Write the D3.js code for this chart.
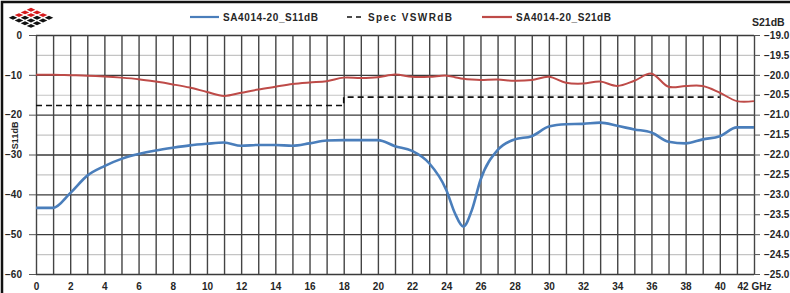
<!DOCTYPE html>
<html>
<head>
<meta charset="utf-8">
<script src="https://cdn.jsdelivr.net/npm/d3@7"></script>
<style>
  body { margin: 0; background: #fff; }
  svg { display: block; font-family: "Liberation Sans", Arial, sans-serif; }
</style>
</head>
<body>
<svg id="chart"></svg>
<script>
// S-parameter sweep, values
var freqGHz = [0, 1, 2, 3, 4, 5, 6, 7, 8, 9, 10, 11, 12, 13, 14, 15, 16, 17, 18, 19, 20,
  21, 22, 23, 24, 24.5, 25, 25.5, 26, 27, 28, 29, 30, 31, 32, 33, 34, 35, 36, 37, 38, 39, 40, 41, 42];
var s11dB = [-43.4, -43.4, -39.7, -35.3, -32.9, -31.1, -29.9, -29.0, -28.3, -27.7, -27.3, -27.0, -27.8, -27.6,
  -27.6, -27.8, -27.2, -26.5, -26.4, -26.4, -26.4, -27.9, -29.1, -32.2, -38.9, -44.7, -48.1, -43.9, -36.4,
  -28.9, -26.2, -25.4, -23.0, -22.4, -22.3, -22.0, -22.8, -23.7, -24.5, -26.8, -27.2, -26.2, -25.4, -23.2, -23.2];
var s21dB = [-20.00, -20.00, -20.01, -20.02, -20.04, -20.07, -20.11, -20.17, -20.24, -20.32, -20.43, -20.53,
  -20.45, -20.37, -20.30, -20.23, -20.19, -20.16, -20.07, -20.08, -20.06, -19.99, -20.05, -20.05, -20.02,
  -20.06, -20.10, -20.12, -20.13, -20.12, -20.15, -20.13, -20.05, -20.20, -20.22, -20.17, -20.28, -20.15,
  -19.97, -20.30, -20.28, -20.28, -20.45, -20.66, -20.66];
var specFreq = [0, 18, 18, 40];
var specVswrDB = [-17.7, -17.7, -15.6, -15.6];

var xTicks = [0, 2, 4, 6, 8, 10, 12, 14, 16, 18, 20, 22, 24, 26, 28, 30, 32, 34, 36, 38, 40, 42];
var leftTicks = [0, -10, -20, -30, -40, -50, -60];
var rightTicks = [-19.0, -19.5, -20.0, -20.5, -21.0, -21.5, -22.0, -22.5, -23.0, -23.5, -24.0, -24.5, -25.0];

var seriesNames = ["SA4014-20_S11dB", "Spec VSWRdB", "SA4014-20_S21dB"];

var width = 790, height = 293;
var margin = { top: 35, right: 36, bottom: 19, left: 36 };
var blue = "#4a7ebb", red = "#be4b48";

var svg = d3.select("#chart").attr("width", width).attr("height", height);

// frame
svg.append("rect").attr("x", 2).attr("y", 2).attr("width", width + 10).attr("height", height + 10)
  .attr("fill", "#fff").attr("stroke", "#111").attr("stroke-width", 2.5);

var x = d3.scaleLinear().domain([0, 42]).range([margin.left, width - margin.right]);
var yL = d3.scaleLinear().domain([-60, 0]).range([height - margin.bottom, margin.top]);
var yR = d3.scaleLinear().domain([-25, -19]).range(yL.range());

var plotH = yL(-60) - yL(0), plotW = x(42) - x(0);

// horizontal grid: light every 5 dB, dark every 10 dB
svg.append("g")
  .attr("transform", "translate(" + x(0) + ",0)")
  .call(d3.axisLeft(yL).tickValues(d3.range(-55, 0, 10)).tickSize(-plotW).tickFormat(""))
  .call(function(g) { g.select(".domain").remove(); })
  .selectAll("line").attr("stroke", "#c4c4c4").attr("stroke-width", 1.2);

svg.append("g")
  .attr("transform", "translate(" + x(0) + ",0)")
  .call(d3.axisLeft(yL).tickValues(d3.range(-60, 1, 10)).tickSize(-plotW).tickFormat(""))
  .call(function(g) { g.select(".domain").remove(); })
  .selectAll("line").attr("stroke", "#3a3a3a").attr("stroke-width", 1.3);

// vertical grid every GHz
svg.append("g")
  .attr("transform", "translate(0," + yL(-60) + ")")
  .call(d3.axisBottom(x).tickValues(d3.range(0, 43, 1)).tickSize(-plotH).tickFormat(""))
  .call(function(g) { g.select(".domain").remove(); })
  .selectAll("line").attr("stroke", "#444").attr("stroke-width", 1.4);

// axes
var xAxis = svg.append("g")
  .attr("transform", "translate(0," + yL(-60) + ")")
  .call(d3.axisBottom(x).tickValues(xTicks).tickSize(0).tickPadding(9)
    .tickFormat(function(d) { return d === 42 ? "42 GHz" : d; }));
xAxis.select(".domain").remove();

var leftAxis = svg.append("g")
  .attr("transform", "translate(" + x(0) + ",0)")
  .call(d3.axisLeft(yL).tickValues(leftTicks).tickSize(7).tickPadding(7));
leftAxis.select(".domain").remove();
leftAxis.selectAll(".tick line").attr("stroke", "#555");

var rightAxis = svg.append("g")
  .attr("transform", "translate(" + x(42) + ",0)")
  .call(d3.axisRight(yR).tickValues(rightTicks).tickSize(6).tickPadding(4).tickFormat(d3.format(".1f")));
rightAxis.select(".domain").remove();
rightAxis.selectAll(".tick line").attr("stroke", "#555");

svg.selectAll(".tick text").attr("font-size", 10).attr("font-weight", "bold").attr("fill", "#262626");

// axis titles
svg.append("text")
  .attr("transform", "translate(18," + yL(-25.2) + ") rotate(-90)")
  .attr("text-anchor", "middle").attr("font-size", 9).attr("font-weight", "bold").attr("fill", "#262626")
  .text("S11dB");
svg.append("text")
  .attr("x", 752).attr("y", 26)
  .attr("font-size", 10.5).attr("font-weight", "bold").attr("fill", "#262626")
  .text("S21dB");

// lines
var lineL = d3.line().x(function(d) { return x(d[0]); }).y(function(d) { return yL(d[1]); });
var lineR = d3.line().x(function(d) { return x(d[0]); }).y(function(d) { return yR(d[1]); });

svg.append("path")
  .datum(d3.zip(specFreq, specVswrDB))
  .attr("fill", "none").attr("stroke", "#111").attr("stroke-width", 1.6)
  .attr("stroke-dasharray", "6,4")
  .attr("d", lineL);

svg.append("path")
  .datum(d3.zip(freqGHz, s21dB))
  .attr("fill", "none").attr("stroke", red).attr("stroke-width", 2)
  .attr("d", lineR.curve(d3.curveCatmullRom));

svg.append("path")
  .datum(d3.zip(freqGHz, s11dB))
  .attr("fill", "none").attr("stroke", blue).attr("stroke-width", 2.6)
  .attr("d", lineL.curve(d3.curveMonotoneX));

// legend
var legend = [
  { name: seriesNames[0], color: blue, dash: null, x1: 190, tx: 223, w: 95 },
  { name: seriesNames[1], color: "#111", dash: "5,4", x1: 347, tx: 368, w: 84 },
  { name: seriesNames[2], color: red, dash: null, x1: 482, tx: 516, w: 95 }
];
var lg = svg.append("g").selectAll("g").data(legend).join("g");
lg.append("line")
  .attr("x1", function(d) { return d.x1; })
  .attr("x2", function(d) { return d.tx - 4; })
  .attr("y1", 17).attr("y2", 17)
  .attr("stroke", function(d) { return d.color; })
  .attr("stroke-width", function(d) { return d.dash ? 1.6 : 2.2; })
  .attr("stroke-dasharray", function(d) { return d.dash; });
lg.append("text")
  .attr("x", function(d) { return d.tx; }).attr("y", 21)
  .attr("font-size", 10).attr("font-weight", "bold").attr("fill", "#262626")
  .attr("textLength", function(d) { return d.w; }).attr("lengthAdjust", "spacing")
  .text(function(d) { return d.name; });

// logo: rhombus made of small red / black rhombi
var cells = [];
d3.range(4).forEach(function(i) { d3.range(4).forEach(function(j) { cells.push([i, j]); }); });
var cw = 12, ch = 5.4, lx = 31, ly = 7;
svg.append("g").selectAll("path").data(cells).join("path")
  .attr("d", function(c) {
    var cx = lx + (c[0] - c[1]) * cw / 2, cy = ly + (c[0] + c[1] + 1) * ch / 2;
    var hw = cw / 2 * 0.72, hh = ch / 2 * 0.72;
    return "M" + cx + "," + (cy - hh) + "L" + (cx + hw) + "," + cy + "L" + cx + "," + (cy + hh) + "L" + (cx - hw) + "," + cy + "Z";
  })
  .attr("fill", function(c) { return c[0] + c[1] <= 2 ? "#d7191c" : "#111"; });
</script>
</body>
</html>
